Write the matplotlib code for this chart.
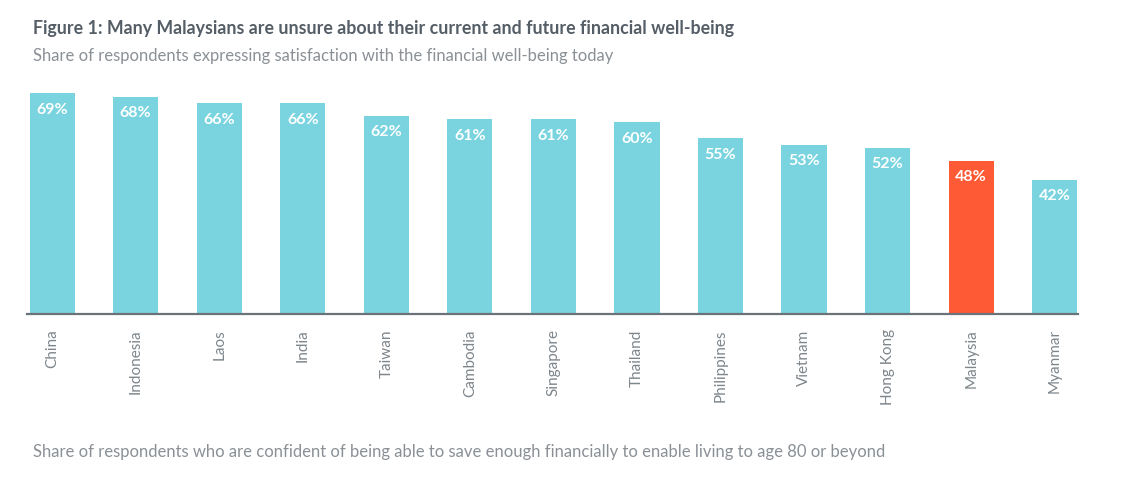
import matplotlib.pyplot as plt

plt.rcParams['font.family'] = ['Lato', 'DejaVu Sans']

countries = ['China', 'Indonesia', 'Laos', 'India', 'Taiwan', 'Cambodia', 'Singapore',
             'Thailand', 'Philippines', 'Vietnam', 'Hong Kong', 'Malaysia', 'Myanmar']
values = [69, 68, 66, 66, 62, 61, 61, 60, 55, 53, 52, 48, 42]
highlight = 'Malaysia'

cyan = '#79d4e0'
orange = '#ff5a36'

fig = plt.figure(figsize=(11.4, 4.9), dpi=100)
ax = fig.add_axes([0.0237, 0.359, 0.922, 0.457])

x = range(len(countries))
colors = [orange if c == highlight else cyan for c in countries]
bars = ax.bar(x, values, width=0.54, color=colors, zorder=2)

# value labels sit inside the top of each bar
for b, v in zip(bars, values):
    ax.annotate(f'{v}%', (b.get_x() + b.get_width() / 2, v), xytext=(0, -12),
                textcoords='offset points', ha='center', va='center',
                color='white', fontsize=11.5, fontweight='bold')

ax.set_xlim(-0.3, len(countries) - 1 + 0.28)
ax.set_ylim(0, 70)
ax.set_xticks(list(x))
ax.set_xticklabels(countries, rotation=90, va='top', ha='center', fontsize=11, color='#7d858b')
ax.tick_params(axis='x', length=0, pad=11)
ax.set_yticks([])
for s in ['top', 'right', 'left']:
    ax.spines[s].set_visible(False)
ax.spines['bottom'].set_color('#6b7278')
ax.spines['bottom'].set_linewidth(1.6)
ax.spines['bottom'].set_zorder(3)

fig.text(0.029, 0.942, 'Figure 1: Many Malaysians are unsure about their current and future financial well-being',
         fontsize=12.8, fontweight='bold', color='#555e66', va='center')
fig.text(0.029, 0.885, 'Share of respondents expressing satisfaction with the financial well-being today',
         fontsize=12, color='#8a9096', va='center')
fig.text(0.029, 0.077, 'Share of respondents who are confident of being able to save enough financially to enable living to age 80 or beyond',
         fontsize=12, color='#8a9096', va='center')

fig.savefig('out.png', dpi=100, facecolor='white')
